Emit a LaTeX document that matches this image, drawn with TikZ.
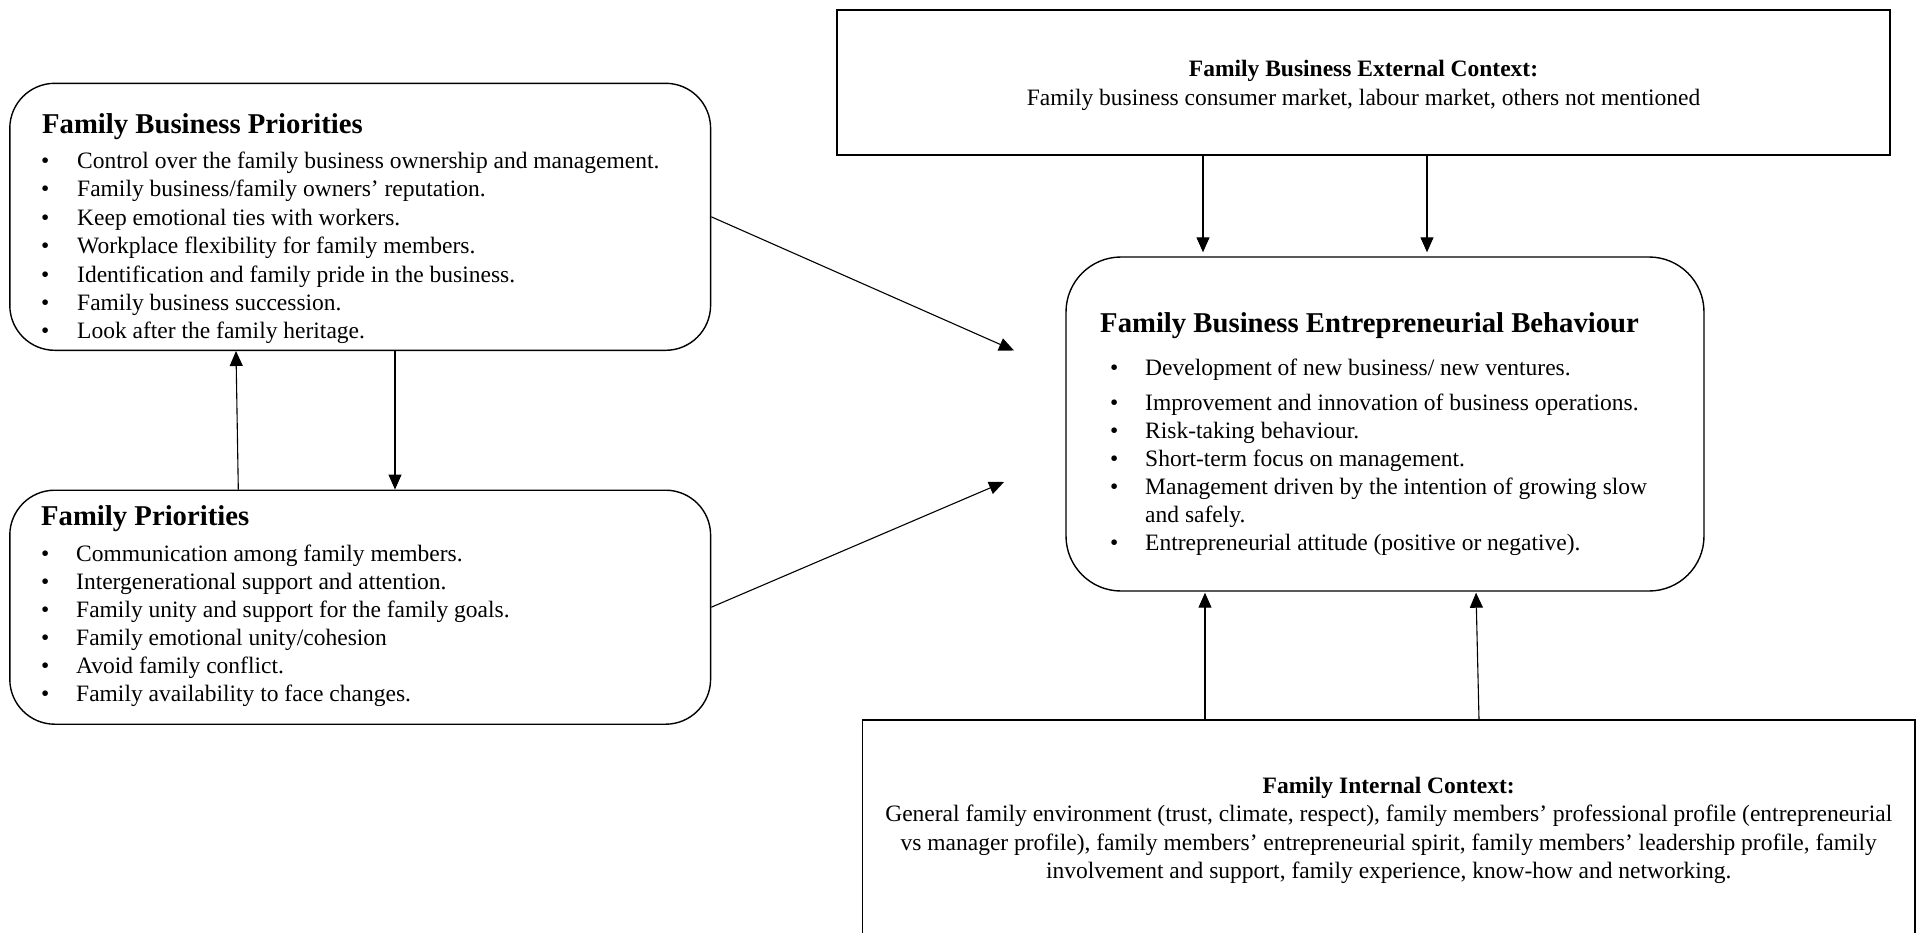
\documentclass[tikz,border=0pt]{standalone}
\usepackage{fontspec}
\setmainfont{Liberation Serif}
\usetikzlibrary{arrows.meta}
\begin{document}
\begin{tikzpicture}[x=1pt,y=-1pt,
  rbox/.style={draw, line width=1.4pt, rounded corners=45pt, inner sep=0pt},
  cbox/.style={draw, line width=1.4pt, inner sep=0pt},
  arr/.style={line width=1.1pt, -{Triangle[length=15pt,width=13pt]}},
  body/.style={font=\fontsize{23.5}{28.4}\selectfont, anchor=base west, inner sep=0pt},
  bul/.style={font=\fontsize{23.5}{28.4}\selectfont, anchor=base west, inner sep=0pt},
  cbody/.style={font=\fontsize{23.5}{28.4}\selectfont, anchor=base, inner sep=0pt},
  chead/.style={font=\fontsize{23.5}{28.4}\selectfont\bfseries, anchor=base, inner sep=0pt},
  head/.style={font=\fontsize{28.7}{34}\selectfont\bfseries, anchor=base west, inner sep=0pt},
]
\fill[white] (0,0) rectangle (1921,932);
\useasboundingbox (0,0) rectangle (1921,932);

% ---------- Family Business Priorities ----------
\node[rbox, minimum width=700.8pt, minimum height=267pt] (fbp) at (360.2,216.8) {};
\node[head] (fbph) at (42,133.5) {Family Business Priorities};
\foreach \t [count=\i] in {{Control over the family business ownership and management.},
  {Family business/family owners’ reputation.},
  {Keep emotional ties with workers.},
  {Workplace flexibility for family members.},
  {Identification and family pride in the business.},
  {Family business succession.},
  {Look after the family heritage.}}{
  \pgfmathsetmacro\yy{168.5+28.4*(\i-1)}
  \node[bul] (fbpb\i) at (41,\yy) {•};
  \node[body] (fbpt\i) at (77,\yy) {\t};
}

% ---------- Family Priorities ----------
\node[rbox, minimum width=700.8pt, minimum height=234pt] (fp) at (360.2,607.2) {};
\node[head] (fph) at (41,525.5) {Family Priorities};
\foreach \t [count=\i] in {{Communication among family members.},
  {Intergenerational support and attention.},
  {Family unity and support for the family goals.},
  {Family emotional unity/cohesion},
  {Avoid family conflict.},
  {Family availability to face changes.}}{
  \pgfmathsetmacro\yy{561.5+27.9*(\i-1)}
  \node[bul] (fpb\i) at (41,\yy) {•};
  \node[body] (fpt\i) at (76,\yy) {\t};
}

% ---------- Family Business Entrepreneurial Behaviour ----------
\node[rbox, rounded corners=55pt, minimum width=638pt, minimum height=334pt] (fbeb) at (1385,424) {};
\node[head] (fbebh) at (1100,332) {Family Business Entrepreneurial Behaviour};
\node[bul] (eb1) at (1110,375) {•};
\node[body] (et1) at (1145,375) {Development of new business/ new ventures.};
\node[bul] (eb2) at (1110,410) {•};
\node[body] (et2) at (1145,410) {Improvement and innovation of business operations.};
\node[bul] (eb3) at (1110,438) {•};
\node[body] (et3) at (1145,438) {Risk-taking behaviour.};
\node[bul] (eb4) at (1110,466) {•};
\node[body] (et4) at (1145,466) {Short-term focus on management.};
\node[bul] (eb5) at (1110,494) {•};
\node[body] (et5) at (1145,494) {Management driven by the intention of growing slow};
\node[body] (et5b) at (1145,522) {and safely.};
\node[bul] (eb6) at (1110,550) {•};
\node[body] (et6) at (1145,550) {Entrepreneurial attitude (positive or negative).};

% ---------- External context ----------
\node[cbox, minimum width=1053pt, minimum height=145pt] (ext) at (1363.5,82.5) {};
\node[chead] (exth) at (1363.5,76.7) {Family Business External Context:};
\node[cbody] (extt) at (1363.5,105) {Family business consumer market, labour market, others not mentioned};

% ---------- Internal context ----------
\node[cbox, minimum width=1052.5pt, minimum height=240pt] (int) at (1388.7,840) {};
\node[chead] (inth) at (1388.7,793) {Family Internal Context:};
\node[cbody] (intt1) at (1388.7,821.7) {General family environment (trust, climate, respect), family members’ professional profile (entrepreneurial};
\node[cbody] (intt2) at (1388.7,850) {vs manager profile), family members’ entrepreneurial spirit, family members’ leadership profile, family};
\node[cbody] (intt3) at (1388.7,878) {involvement and support, family experience, know-how and networking.};

% ---------- Connectors ----------
\coordinate (xa) at (1203,0);
\coordinate (xb) at (1427,0);
\draw[arr, shorten >=4pt] (ext.south -| xa) -- (fbeb.north -| xa);
\draw[arr, shorten >=4pt] (ext.south -| xb) -- (fbeb.north -| xb);

\coordinate (ia1) at (1205,0);
\coordinate (ia2) at (1479,0);
\coordinate (ib2) at (1476,0);
\draw[arr, shorten >=1pt] (int.north -| ia1) -- (fbeb.south -| ia1);
\draw[arr, shorten >=1pt] (int.north -| ia2) -- (fbeb.south -| ib2);

\coordinate (la) at (395,0);
\coordinate (lb1) at (238.3,0);
\coordinate (lb2) at (236,0);
\draw[arr] (fbp.south -| la) -- (fp.north -| la);
\draw[arr] (fp.north -| lb1) -- (fbp.south -| lb2);

\coordinate (d1) at (1014,350.5);
\coordinate (d2) at (1004,482);
\draw[arr] (fbp.east) -- (d1);
\draw[arr] (fp.east) -- (d2);
\end{tikzpicture}
\end{document}
